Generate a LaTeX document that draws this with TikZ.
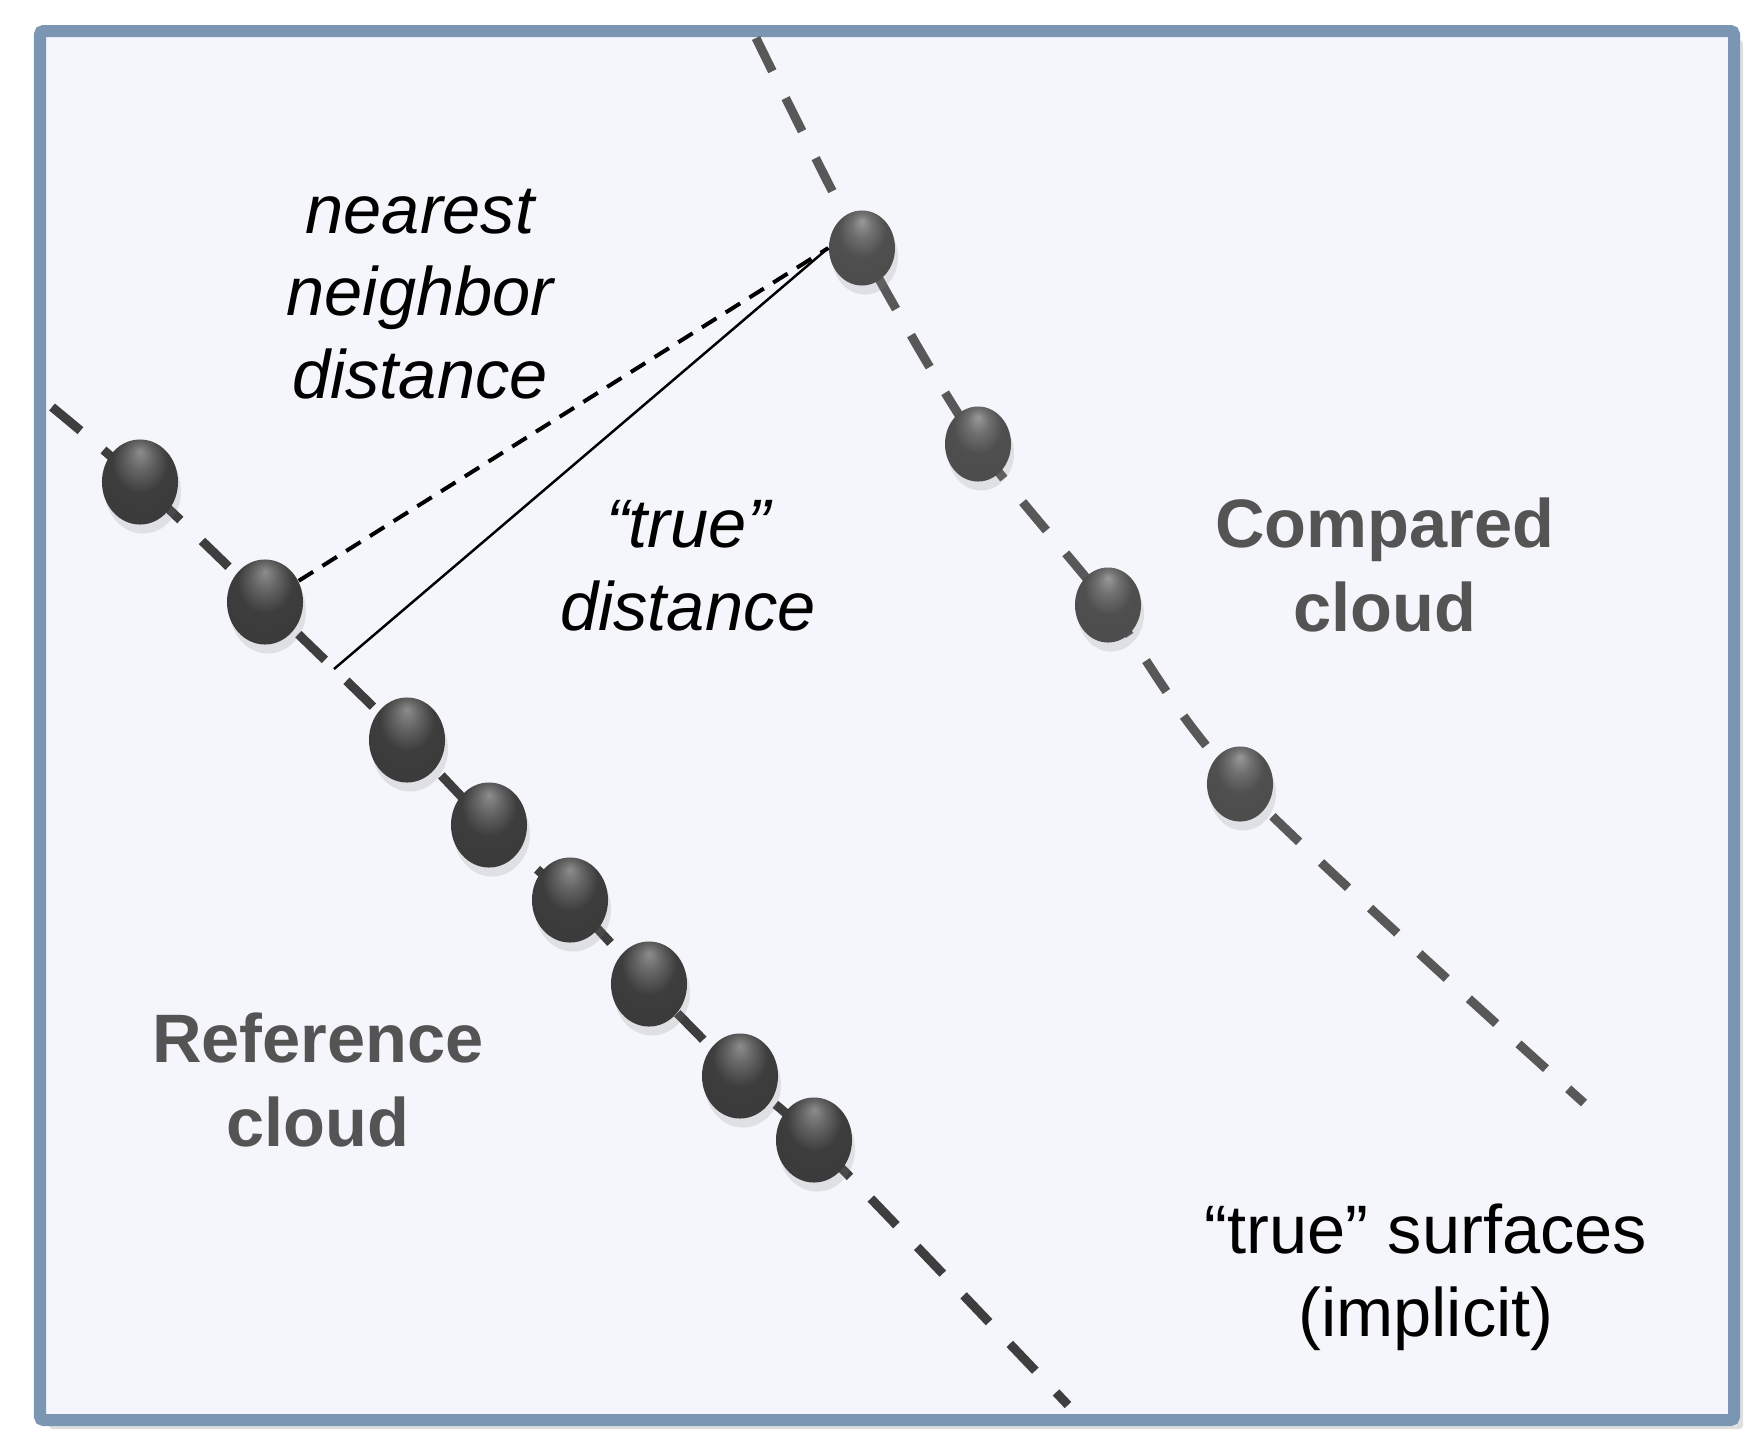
\documentclass[tikz,border=0pt]{standalone}
\usepackage{fontspec}
\setmainfont{Liberation Sans}
\usepackage{tikz}
\usetikzlibrary{shapes.geometric,shadows,backgrounds}
\definecolor{framecol}{RGB}{122,150,178}
\definecolor{panelcol}{RGB}{244,246,251}
\definecolor{cloudtext}{RGB}{84,84,84}
\definecolor{refdash}{RGB}{62,62,62}
\definecolor{cmpdash}{RGB}{88,88,88}
\pgfdeclareradialshading{refsphere}{\pgfpoint{0bp}{18bp}}{%
    color(0bp)=(black!45); color(8bp)=(black!60); color(18bp)=(black!76);
    color(42bp)=(black!78); color(50bp)=(black!64)}
\pgfdeclareradialshading{cmpsphere}{\pgfpoint{0bp}{18bp}}{%
    color(0bp)=(black!40); color(8bp)=(black!56); color(18bp)=(black!69);
    color(42bp)=(black!71); color(50bp)=(black!58)}
\tikzset{
    refball/.style={
        ellipse,
        inner sep=0pt,
        minimum width=0.76cm,
        minimum height=0.85cm,
        shade,
        shading=refsphere,
        drop shadow={shadow xshift=0.03cm, shadow yshift=-0.09cm, opacity=0.18}
    },
    cmpball/.style={
        refball,
        minimum width=0.66cm,
        minimum height=0.75cm,
        shading=cmpsphere
    },
    surface/.style={line width=0.09cm, dash pattern=on 0.37cm off 0.30cm},
    nnline/.style={line width=0.04cm, dash pattern=on 0.17cm off 0.11cm},
    trueline/.style={line width=0.7pt},
    italiclabel/.style={
        align=center,
        font=\fontsize{19.5}{23.5}\selectfont\itshape
    },
    cloudlabel/.style={
        align=center,
        text=cloudtext,
        font=\fontsize{19.5}{24}\selectfont\bfseries
    },
    plainlabel/.style={
        align=center,
        font=\fontsize{19.5}{23.5}\selectfont
    }
}

\begin{document}
\begin{tikzpicture}[x=0.01cm, y=-0.01cm]
    \useasboundingbox (0,0) rectangle (1763,1454);
    % reference cloud
    \node[refball] (r1) at (140,482) {};
    \node[refball] (r2) at (265,602) {};
    \node[refball] (r3) at (407,740) {};
    \node[refball] (r4) at (489,825) {};
    \node[refball] (r5) at (570,900) {};
    \node[refball] (r6) at (649,984) {};
    \node[refball] (r7) at (740,1076) {};
    \node[refball] (r8) at (814,1140) {};
    % compared cloud
    \node[cmpball] (c1) at (862,248) {};
    \node[cmpball] (c2) at (978,444) {};
    \node[cmpball] (c3) at (1108,605) {};
    \node[cmpball] (c4) at (1240,784) {};
    \coordinate (refstart) at (52,407);
    \coordinate (refend) at (1068,1405);
    \coordinate (cmpstart) at (756,38);
    \coordinate (cmpend) at (1584,1103);
    \coordinate (foot) at (334,669);
    \node[italiclabel] (nnlabel) at (420,294) {nearest\\neighbor\\distance};
    \node[italiclabel] (truelabel) at (688,566) {“true”\\distance};
    \node[cloudlabel] (cmplabel) at (1385,565) {Compared\\cloud};
    \node[cloudlabel] (reflabel) at (318,1080) {Reference\\cloud};
    \node[plainlabel] (surflabel) at (1426,1277) {“true” surfaces\\(implicit)};
    \draw[nnline] (r2) -- (c1.west);
    \draw[trueline] (foot) -- (c1.west);
    \begin{scope}[on background layer]
        \draw[framecol, fill=panelcol, line width=0.12cm, rounded corners=1pt,
            drop shadow={shadow xshift=0.09cm, shadow yshift=-0.09cm, opacity=0.25}]
            (40,31) rectangle (1734,1420);
        \draw[surface, refdash] plot[smooth, tension=0.5] coordinates {(refstart) (r1.center)
            (r2.center) (r3.center) (r4.center) (r5.center) (r6.center) (r7.center)
            (r8.center) (refend)};
        \draw[surface, cmpdash] plot[smooth, tension=0.5] coordinates {(cmpstart) (c1.center)
            (c2.center) (c3.center) (c4.center) (cmpend)};
    \end{scope}
\end{tikzpicture}
\end{document}
